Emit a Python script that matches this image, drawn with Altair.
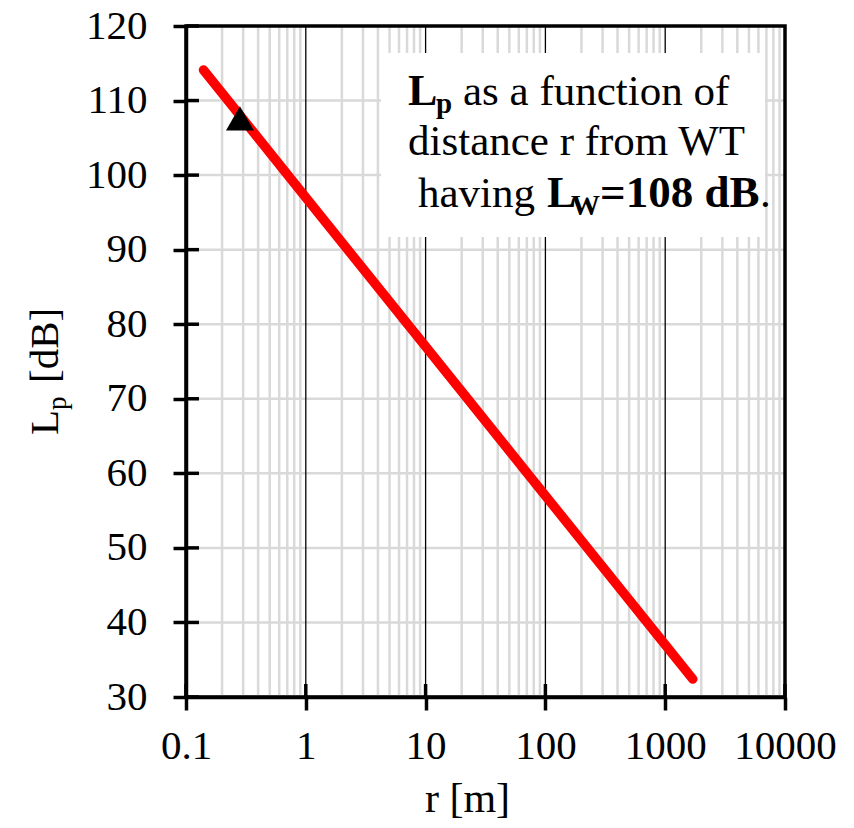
import altair as alt
import pandas as pd

# ---- data ----
r_vals = [0.14, 1, 10, 100, 1000, 1700]
lp_vals = [114.1, 97.0, 77.0, 57.0, 37.0, 32.4]
src_r = [0.282]
src_lp = [108]
x_ticks = [0.1, 1, 10, 100, 1000, 10000]
y_ticks = [30, 40, 50, 60, 70, 80, 90, 100, 110, 120]
major_x_grid = [1, 10, 100, 1000]
y_grid = [40, 50, 60, 70, 80, 90, 100, 110]
minor_x_grid = [m * d for d in [0.1, 1, 10, 100, 1000] for m in range(2, 10)]

W, H = 599, 671
FONT = "Liberation Serif"
TS = 41

xs = alt.Scale(type="log", domain=[0.1, 10000], nice=False)
ys = alt.Scale(domain=[30, 120], nice=False, zero=False)

x_axis = alt.Axis(
    values=x_ticks, format="~g", title="r [m]", grid=False,
    domainColor="black", domainWidth=3.5,
    tickSize=13, tickWidth=3.5, tickColor="black",
    labelFont=FONT, labelFontSize=TS, labelColor="black",
    labelPadding=16, labelFlush=False, labelOverlap=False,
    titleFont=FONT, titleFontSize=42, titleFontWeight="normal",
    titleColor="black", titleX=281, titleY=114,
    titleBaseline="alphabetic",
)
y_axis = alt.Axis(
    values=y_ticks, title=None, grid=False,
    domainColor="black", domainWidth=3.5,
    tickSize=13, tickWidth=3.5, tickColor="black",
    labelFont=FONT, labelFontSize=TS, labelColor="black",
    labelPadding=26, labelOverlap=False,
)


def X(f):
    return alt.X(f, scale=xs, axis=x_axis, title="r [m]")


def Y(f):
    return alt.Y(f, scale=ys, axis=y_axis, title=None)


df_line = pd.DataFrame({"r": r_vals, "lp": lp_vals})
df_src = pd.DataFrame({"r": src_r, "lp": src_lp})
one = pd.DataFrame({"a": [0]})

minor = alt.Chart(pd.DataFrame({"r": minor_x_grid})).mark_rule(
    color="#d9d9d9", strokeWidth=2.5
).encode(x=X("r:Q"))

hgrid = alt.Chart(pd.DataFrame({"lp": y_grid})).mark_rule(
    color="#d9d9d9", strokeWidth=2.5
).encode(y=Y("lp:Q"))

major = alt.Chart(pd.DataFrame({"r": major_x_grid})).mark_rule(
    color="black", strokeWidth=1.3
).encode(x=X("r:Q"))

box = alt.Chart(one).mark_rect(fill="white").encode(
    x=alt.value(195), x2=alt.value(579), y=alt.value(27), y2=alt.value(211)
)

line = alt.Chart(df_line).mark_line(
    color="#ff0000", strokeWidth=9.5, strokeCap="round"
).encode(x=X("r:Q"), y=Y("lp:Q"))

tri = alt.Chart(df_src).mark_point(
    shape="triangle-up", filled=True, color="black", opacity=1, size=780, yOffset=3
).encode(x=X("r:Q"), y=Y("lp:Q"))

yin = alt.Chart(pd.DataFrame({"lp": y_ticks})).mark_rule(
    color="black", strokeWidth=3.5
).encode(y=Y("lp:Q"), x=alt.value(0), x2=alt.value(13))

xin = alt.Chart(pd.DataFrame({"r": x_ticks})).mark_rule(
    color="black", strokeWidth=3.5
).encode(x=X("r:Q"), y=alt.value(H - 13), y2=alt.value(H))

frame = alt.Chart(one).mark_rect(
    filled=False, stroke="black", strokeWidth=3.5
).encode(x=alt.value(0), x2=alt.value(W), y=alt.value(0), y2=alt.value(H))


def txt(t, x, y, size=43, weight="normal", angle=0):
    return alt.Chart(one).mark_text(
        text=t, font=FONT, fontSize=size, fontWeight=weight, align="left",
        baseline="alphabetic", color="black", angle=angle,
    ).encode(x=alt.value(x), y=alt.value(y))


texts = [
    txt("L", 222, 79, size=44, weight="bold"),
    txt("p", 250, 87, size=29, weight="bold"),
    txt("as a function of", 277, 79),
    txt("distance r from WT", 222, 129),
    txt("having", 232, 181),
    txt("L", 361, 181, size=44, weight="bold"),
    txt("W", 385, 189, size=29, weight="bold"),
    txt("=108 dB", 414, 181, size=45, weight="bold"),
    txt(".", 574, 181),
    # rotated y title
    txt("L", -128, 409, size=TS, angle=270),
    txt("p", -120, 384, size=27, angle=270),
    txt("[dB]", -128, 357, size=TS, angle=270),
]

chart = alt.layer(
    minor, hgrid, major, box, line, tri, yin, xin, frame, *texts
).properties(
    width=W, height=H, autosize="none",
    padding={"left": 178, "top": 18, "right": 61, "bottom": 123},
    background="white",
).configure_view(stroke=None)

chart.save("out.html", embed_options={"renderer": "svg", "actions": False})
